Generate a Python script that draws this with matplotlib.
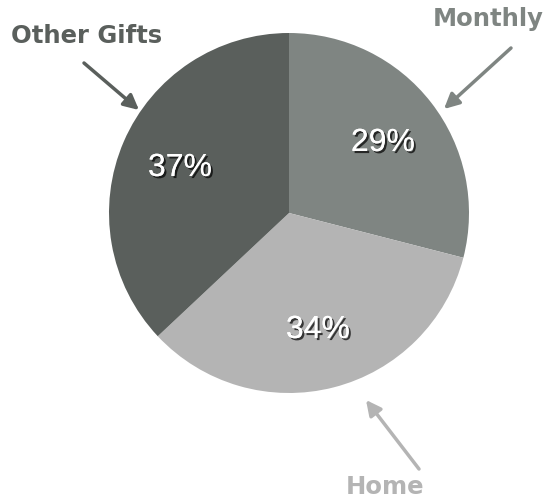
import numpy as np
import matplotlib.pyplot as plt
import matplotlib.patheffects as pe

labels = ["Monthly", "Home", "Other Gifts"]
shares = [29, 34, 37]
colors = ["#7f8582", "#b4b4b4", "#5a5f5c"]

fig = plt.figure(figsize=(5.45, 5.0), dpi=100)
ax = fig.add_axes([0, 0, 1, 1])

# pie in pixel coords (y up)
cx, cy, r = 289, 500 - 213, 180
wedges, _ = ax.pie(shares, colors=colors, startangle=90, counterclock=False,
                   center=(cx, cy), radius=r, frame=True)
ax.set_xlim(0, 545)
ax.set_ylim(0, 500)
ax.axis("off")

shadow = [pe.withSimplePatchShadow(offset=(1.5, -1.5), shadow_rgbFace="black", alpha=0.7),
          pe.Normal()]
pct_pos = [(383, 500 - 143), (318, 500 - 330), (180, 500 - 168)]
for s, (x, y) in zip(shares, pct_pos):
    t = ax.text(x, y, f"{s}%", color="white", fontsize=23, family="Liberation Sans",
                ha="center", va="center")
    t.set_path_effects(shadow)

# category labels with arrows
lab_pos = [(488, 500 - 19), (385, 500 - 487), (87, 500 - 36)]
arrows = [((511, 48), (444, 109)), ((419, 469), (366, 400)), ((84, 63), (139, 110))]
for name, c, (x, y), (p0, p1) in zip(labels, colors, lab_pos, arrows):
    ax.text(x, y, name, color=c, fontsize=17.5, fontweight="bold", family="DejaVu Sans",
            ha="center", va="center")
    ax.annotate("", xy=(p1[0], 500 - p1[1]), xytext=(p0[0], 500 - p0[1]),
                arrowprops=dict(arrowstyle="-|>,head_length=0.9,head_width=0.45",
                                color=c, lw=2.5, shrinkA=0, shrinkB=0))

fig.savefig("out.png", dpi=100)
